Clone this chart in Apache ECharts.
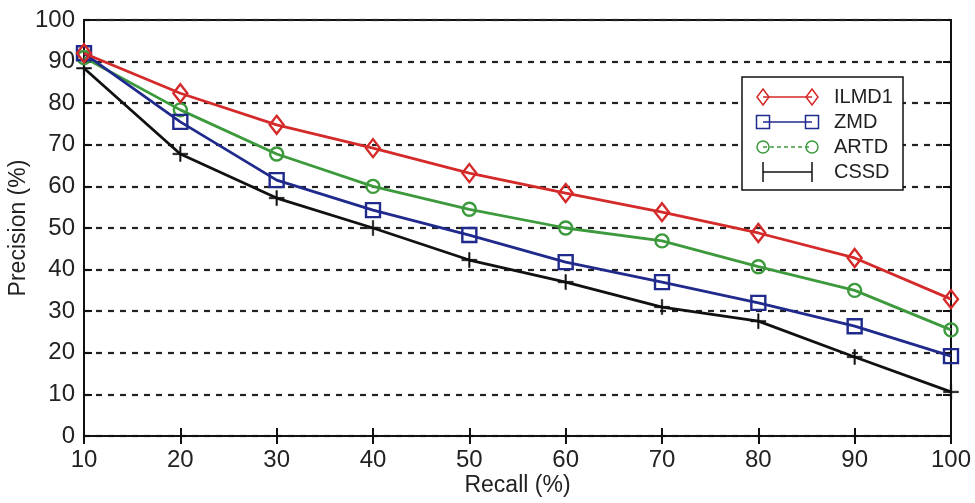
<!DOCTYPE html>
<html>
<head>
<meta charset="utf-8">
<script src="https://cdn.jsdelivr.net/npm/echarts@6/dist/echarts.min.js"></script>
<style>html,body{margin:0;padding:0;background:#fff}#c{width:975px;height:503px}</style>
</head>
<body>
<div id="c"></div>
<script>
var recall = [10, 20, 30, 40, 50, 60, 70, 80, 90, 100];
var ilmd1 = [92, 82.4, 74.8, 69.2, 63.2, 58.4, 53.8, 48.8, 42.8, 32.9];
var zmd   = [92, 75.5, 61.5, 54.3, 48.3, 41.8, 37, 32, 26.4, 19.2];
var artd  = [91, 78.4, 67.8, 60, 54.5, 50, 46.9, 40.7, 35, 25.5];
var cssd  = [88.4, 67.8, 57.2, 50, 42.3, 37, 31, 27.6, 19, 10.6];
var seriesNames = ['ILMD1', 'ZMD', 'ARTD', 'CSSD'];
var yTicks = [0, 10, 20, 30, 40, 50, 60, 70, 80, 90, 100];

var FONT = '"Liberation Sans", Arial, sans-serif';
var colors = ['#d42a2a', '#1f2a8c', '#3c9a3c', '#111111'];
var diamond = 'path://M0,-1L0.75,0L0,1L-0.75,0Z';
var plus = 'path://M-1,-0.1L1,-0.1L1,0.1L-1,0.1Z M-0.1,-1L0.1,-1L0.1,1L-0.1,1Z';
var symbols = [diamond, 'rect', 'circle', plus];
var sizes = [[14, 18], 14, 13, 15];

function pairs(v) { return recall.map(function (x, i) { return [x, v[i]]; }); }
var all = [ilmd1, zmd, artd, cssd];

var series = all.map(function (v, i) {
  return {
    name: seriesNames[i],
    type: 'line',
    data: pairs(v),
    symbol: symbols[i],
    symbolSize: sizes[i],
    showAllSymbol: true,
    lineStyle: { color: colors[i], width: 2.8 },
    itemStyle: i === 3 ? { color: colors[i], borderColor: colors[i], borderWidth: 0.5 }
                       : { color: 'rgba(255,255,255,0)', borderColor: colors[i], borderWidth: 2.4 },
    z: 5 + (3 - i)
  };
});

// Legend drawn as graphics (line with markers at both ends)
var lg = { x: 742, y: 77, w: 161, h: 113 };
var rowY = [97, 122, 147, 172];
var graphics = [{
  type: 'rect', shape: { x: lg.x, y: lg.y, width: lg.w, height: lg.h },
  style: { fill: '#fff', stroke: '#111', lineWidth: 1.5 }, z: 20
}];
rowY.forEach(function (yy, i) {
  var x1 = 763, x2 = 812;
  graphics.push({ type: 'line', shape: { x1: x1, y1: yy, x2: x2, y2: yy },
    style: { stroke: colors[i], lineWidth: 1.5, lineDash: i === 2 ? [4, 3] : null }, z: 21 });
  [x1, x2].forEach(function (xx) {
    var el;
    if (i === 0) el = { type: 'polygon', shape: { points: [[xx, yy - 8], [xx + 6, yy], [xx, yy + 8], [xx - 6, yy]] } };
    else if (i === 1) el = { type: 'rect', shape: { x: xx - 6.5, y: yy - 6.5, width: 13, height: 13 } };
    else if (i === 2) el = { type: 'circle', shape: { cx: xx, cy: yy, r: 6 } };
    else el = { type: 'polyline', shape: { points: [[xx, yy - 10], [xx, yy + 10]] } };
    el.style = { fill: 'none', stroke: colors[i], lineWidth: 1.5 };
    el.z = 22;
    graphics.push(el);
  });
  graphics.push({ type: 'text', x: 834, y: yy,
    style: { text: seriesNames[i], fill: '#222', font: '20px ' + FONT, textVerticalAlign: 'middle' }, z: 22 });
});

var chart = echarts.init(document.getElementById('c'), null, { renderer: 'canvas' });
chart.setOption({
  backgroundColor: '#ffffff',
  animation: false,
  grid: { left: 84, top: 20, right: 24, bottom: 67, containLabel: false, outerBoundsMode: 'none',
          show: true, borderColor: '#111', borderWidth: 2, backgroundColor: 'transparent' },
  xAxis: [{
    type: 'value', min: 10, max: 100, interval: 10,
    name: 'Recall (%)', nameLocation: 'middle', nameGap: 38, nameMoveOverlap: false,
    nameTextStyle: { fontFamily: FONT, fontSize: 23, color: '#222' },
    axisLine: { show: true, lineStyle: { color: '#111', width: 2 } },
    axisTick: { inside: true, length: 8, lineStyle: { color: '#111', width: 2 } },
    axisLabel: { fontFamily: FONT, fontSize: 24, color: '#222', margin: 12 },
    splitLine: { show: false }
  }, {
    type: 'value', min: 10, max: 100, interval: 10, position: 'top',
    axisLine: { show: true, lineStyle: { color: '#111', width: 2 } },
    axisTick: { inside: true, length: 8, lineStyle: { color: '#111', width: 2 } },
    axisLabel: { show: false }, splitLine: { show: false }
  }],
  yAxis: [{
    type: 'value', min: 0, max: 100, interval: 10,
    name: 'Precision (%)', nameLocation: 'middle', nameGap: 54, nameRotate: 90, nameMoveOverlap: false,
    nameTextStyle: { fontFamily: FONT, fontSize: 23, color: '#222' },
    axisLine: { show: true, lineStyle: { color: '#111', width: 2 } },
    axisTick: { inside: true, length: 8, lineStyle: { color: '#111', width: 2 } },
    axisLabel: { fontFamily: FONT, fontSize: 24, color: '#222', margin: 9,
      formatter: function (v) { return yTicks.indexOf(v) >= 0 ? String(v) : ''; } },
    splitLine: { show: true, lineStyle: { color: '#222', width: 2.2, type: [6, 6] } }
  }, {
    type: 'value', min: 0, max: 100, interval: 10, position: 'right',
    axisLine: { show: true, lineStyle: { color: '#111', width: 2 } },
    axisTick: { inside: true, length: 8, lineStyle: { color: '#111', width: 2 } },
    axisLabel: { show: false }, splitLine: { show: false }
  }],
  series: series,
  graphic: graphics
});
</script>
</body>
</html>
